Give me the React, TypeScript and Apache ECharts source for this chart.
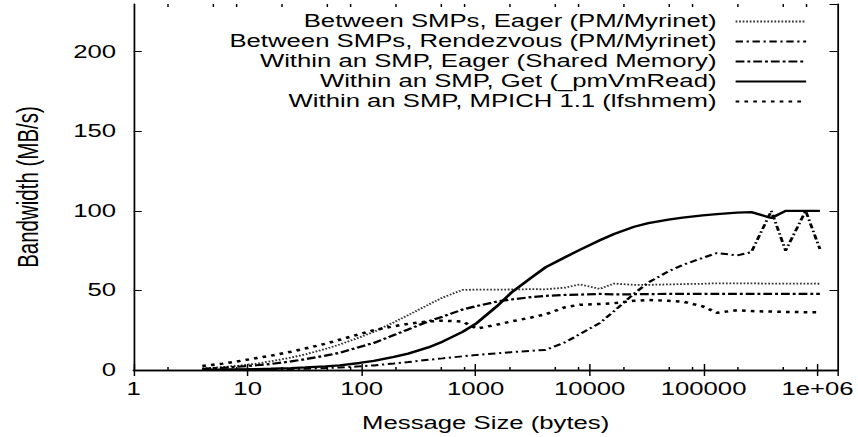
import React, { useEffect, useRef } from "react";
import * as echarts from "echarts";

// Message sizes (bytes)
const sizes = [
  4, 6, 8, 12, 16, 24, 32, 48, 64, 96, 128, 192, 256, 384, 512, 768, 1024, 1536, 2048, 3072,
  4096, 6144, 8192, 12288, 16384, 24576, 32768, 49152, 65536, 98304, 131072, 196608, 262144,
  393216, 524288, 786432, 1048576,
];

const eagerPM = [
  1, 1.8, 2.6, 4, 5.5, 7.8, 9.8, 13.2, 16, 20.5, 24, 30, 34.5, 41, 45.5, 50.3, 50.5, 50.5, 50.6,
  50.8, 50.7, 51.8, 53.8, 51, 54.3, 53.5, 53.5, 53.8, 54, 54.2, 54.5, 54.4, 54.4, 54.3, 54.3,
  54.3, 54.2,
];

const rendezvousPM = [
  0.1, 0.15, 0.2, 0.3, 0.4, 0.6, 0.8, 1.2, 1.6, 2.3, 2.9, 4.1, 5, 6.4, 7.3, 8.6, 9.5, 10.5, 11.2,
  12.1, 12.6, 17.5, 22.5, 29.5, 37, 48, 55, 62, 66, 70.5, 73.5, 72, 74, 100, 75, 100, 76,
];

const eagerShm = [
  0.8, 1.4, 2, 3, 3.8, 5.4, 6.8, 9, 10.8, 14.5, 17, 22, 25.5, 30.5, 33.5, 38, 40.2, 43, 44.3,
  45.8, 46.6, 47.2, 47.4, 47.8, 47.5, 47.6, 47.7, 47.8, 47.8, 47.8, 47.8, 47.8, 47.8, 47.8, 47.8,
  47.8, 47.8,
];

const getPmVmRead = [
  0.2, 0.3, 0.4, 0.6, 0.8, 1.2, 1.6, 2.3, 2.9, 4.4, 5.7, 8.2, 10.3, 14.2, 17.8, 24, 29.5, 40,
  48.5, 58, 64.5, 71, 75.5, 81.5, 85.5, 90, 92.3, 94.5, 95.7, 97.2, 98, 98.9, 99.2, 95.5, 100,
  100, 100,
];

const mpichShmem = [
  2.5, 4, 5.3, 7.5, 9, 11.5, 13.5, 16.5, 19, 22.5, 25, 27.5, 29, 30.5, 31, 30.5, 26, 28.5, 30.5,
  33, 35, 39.5, 41, 41.5, 42, 43.5, 44, 43.5, 43, 40, 36, 37.5, 37, 36.7, 36.5, 36.3, 36.2,
];

const seriesNames = [
  "Between SMPs, Eager (PM/Myrinet)",
  "Between SMPs, Rendezvous (PM/Myrinet)",
  "Within an SMP, Eager (Shared Memory)",
  "Within an SMP, Get (_pmVmRead)",
  "Within an SMP, MPICH 1.1 (lfshmem)",
];

// Minor tick positions on the log axis (2, 5, 8 within each decade)
const minorTickValues = [
  2, 5, 8, 20, 50, 80, 200, 500, 800, 2000, 5000, 8000, 20000, 50000, 80000, 200000, 500000,
  800000,
];

const X_MIN = 1;
const X_MAX = 1500000;
const Y_MIN = 0;
const Y_MAX = 230;

const W = 584;
const H = 437;
const STRETCH = 858 / W;
const FONT = "Liberation Sans, Arial, Helvetica, sans-serif";

export default function App() {
  const ref = useRef<HTMLDivElement>(null);

  useEffect(() => {
    if (!ref.current) return;
    const chart = echarts.init(ref.current, null, { renderer: "svg", width: W, height: H });

    const pair = (vals: number[]) => sizes.map((s, i) => [s, vals[i]]);

    const lineStyles: any[] = [
      { color: "#333", width: 1.8, type: [1.2, 1.2] },
      { color: "#000", width: 2, type: [5, 2.5, 1.5, 2.5] },
      { color: "#000", width: 2.2, type: [6, 2, 2, 2] },
      { color: "#000", width: 2.3, type: "solid" },
      { color: "#000", width: 2.5, type: [2.5, 3.5] },
    ];
    const datasets = [eagerPM, rendezvousPM, eagerShm, getPmVmRead, mpichShmem];

    const lineSeries = seriesNames.map((name, i) => ({
      type: "line",
      name,
      data: pair(datasets[i]),
      symbol: "none",
      xAxisIndex: 0,
      yAxisIndex: 0,
      lineStyle: lineStyles[i],
      itemStyle: { color: lineStyles[i].color },
      emphasis: { disabled: true },
      z: 3,
    }));

    const axisLineStyleH = { color: "#000", width: 1.4 };
    const axisLineStyleV = { color: "#000", width: 1.2 };

    const xBase = {
      type: "log",
      logBase: 10,
      min: X_MIN,
      max: X_MAX,
      splitLine: { show: false },
      axisLine: { show: true, lineStyle: axisLineStyleH },
      axisTick: { show: true, inside: true, length: 6, lineStyle: { color: "#000", width: 1 } },
      minorTick: { show: false },
    };
    const yBase = {
      type: "value",
      min: Y_MIN,
      max: Y_MAX,
      interval: 50,
      splitLine: { show: false },
      axisLine: { show: true, lineStyle: axisLineStyleV },
      axisTick: { show: true, inside: true, length: 5.5, lineStyle: { color: "#000", width: 1 } },
    };

    const option: any = {
      animation: false,
      color: ["#000"],
      textStyle: { fontFamily: FONT, color: "#000" },
      grid: { left: 89.1, right: 12.9, top: 4, bottom: 65, containLabel: false },
      legend: {
        orient: "vertical",
        align: "right",
        right: 34.3,
        top: 12.5,
        padding: 0,
        itemWidth: 48,
        itemHeight: 14,
        itemGap: 2,
        selectedMode: false,
        data: seriesNames,
        itemStyle: { opacity: 0, borderWidth: 0 },
        textStyle: {
          fontSize: 17.5,
          color: "#000",
          fontFamily: FONT,
          lineHeight: 18,
          padding: [0, 8, 0, 0],
        },
      },
      xAxis: [
        {
          ...xBase,
          position: "bottom",
          name: "Message Size (bytes)",
          nameLocation: "middle",
          nameGap: 44,
          nameTextStyle: { fontSize: 17.5, color: "#000", fontFamily: FONT },
          axisLabel: {
            show: true,
            margin: 10,
            fontSize: 17.5,
            color: "#000",
            fontFamily: FONT,
            showMaxLabel: false,
            formatter: (v: number) => (v >= 1e6 ? "1e+06" : String(Math.round(v))),
          },
        },
        {
          ...xBase,
          position: "top",
          axisLabel: { show: false },
        },
      ],
      yAxis: [
        {
          ...yBase,
          position: "left",
          name: "Bandwidth (MB/s)",
          nameLocation: "middle",
          nameGap: 62,
          nameTextStyle: { fontSize: 20.5, color: "#000", fontFamily: FONT },
          axisLabel: {
            show: true,
            margin: 12,
            fontSize: 17.5,
            color: "#000",
            fontFamily: FONT,
            showMaxLabel: false,
          },
        },
        {
          ...yBase,
          position: "right",
          axisLabel: { show: false },
        },
      ],
      series: [
        ...lineSeries,
        {
          type: "custom",
          name: "minorTicks",
          xAxisIndex: 0,
          yAxisIndex: 0,
          silent: true,
          z: 5,
          encode: { x: 0, y: 1 },
          data: minorTickValues.map((v) => [v, Y_MIN]),
          renderItem: (params: any, api: any) => {
            const xv = api.value(0);
            const b = api.coord([xv, Y_MIN]);
            const t = api.coord([xv, Y_MAX]);
            return {
              type: "group",
              children: [
                {
                  type: "line",
                  shape: { x1: b[0], y1: b[1], x2: b[0], y2: b[1] - 3 },
                  style: { stroke: "#000", lineWidth: 1 },
                },
                {
                  type: "line",
                  shape: { x1: t[0], y1: t[1], x2: t[0], y2: t[1] + 3 },
                  style: { stroke: "#000", lineWidth: 1 },
                },
              ],
            };
          },
        },
      ],
    };

    chart.setOption(option);
    return () => chart.dispose();
  }, []);

  return (
    <div
      ref={ref}
      style={{
        position: "absolute",
        left: 0,
        top: 0,
        width: W,
        height: H,
        transform: `scaleX(${STRETCH})`,
        transformOrigin: "0 0",
        background: "#fff",
      }}
    />
  );
}
